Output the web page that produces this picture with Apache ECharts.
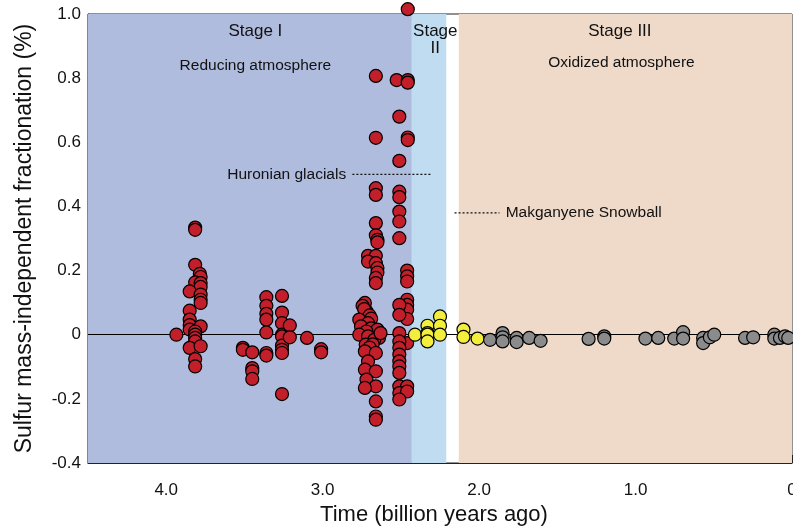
<!DOCTYPE html>
<html>
<head>
<meta charset="utf-8">
<script src="https://cdn.jsdelivr.net/npm/echarts@6/dist/echarts.min.js"></script>
<style>
html,body{margin:0;padding:0;background:#fff;}
#c{width:793px;height:527px;}
</style>
</head>
<body>
<div id="c"></div>
<script>
// ---- data (time in billion years ago, fractionation in %) ----
var stageIPoints = [
  [3.935,0],
  [3.815,0.334],[3.815,0.327],
  [3.815,0.218],[3.785,0.19],[3.78,0.18],[3.815,0.163],[3.78,0.161],[3.78,0.149],[3.85,0.135],
  [3.78,0.125],[3.78,0.109],[3.78,0.099],[3.85,0.075],[3.85,0.047],[3.85,0.03],[3.78,0.026],
  [3.85,0.016],[3.815,0.01],[3.815,0],[3.815,-0.01],[3.815,-0.021],[3.85,-0.041],[3.78,-0.036],
  [3.815,-0.076],[3.815,-0.099],
  [3.51,-0.041],[3.51,-0.047],[3.45,-0.055],[3.45,-0.104],[3.45,-0.114],[3.45,-0.138],
  [3.36,0.117],[3.36,0.09],[3.36,0.065],[3.36,0.047],[3.36,0.007],[3.36,-0.057],[3.36,-0.065],
  [3.26,0.121],[3.26,0.069],[3.26,0.036],[3.26,0],[3.26,-0.005],[3.26,-0.034],[3.26,-0.047],
  [3.26,-0.057],[3.26,-0.185],[3.21,0.029],[3.21,-0.008],
  [3.10,-0.01],
  [3.01,-0.045],[3.01,-0.055],
  [2.66,0.807],[2.66,0.614],
  [2.66,0.457],[2.66,0.436],[2.66,0.348],[2.66,0.31],[2.65,0.296],[2.65,0.288],[2.71,0.246],
  [2.66,0.246],[2.71,0.228],[2.66,0.223],[2.65,0.208],[2.65,0.194],[2.66,0.177],[2.66,0.161],
  [2.73,0.099],[2.745,0.09],[2.72,0.073],[2.735,0.08],[2.70,0.06],[2.69,0.05],[2.766,0.047],
  [2.71,0.036],[2.755,0.026],[2.69,0.02],[2.65,0.016],[2.72,0.01],[2.766,0],[2.71,-0.005],
  [2.64,-0.01],[2.67,-0.016],[2.63,0.005],[2.725,-0.031],[2.68,-0.03],[2.70,-0.04],[2.73,-0.052],
  [2.66,-0.057],[2.71,-0.083],[2.73,-0.109],[2.66,-0.114],[2.72,-0.14],[2.66,-0.161],
  [2.73,-0.166],[2.66,-0.208],[2.66,-0.255],[2.66,-0.265],
  [2.456,1.015],[2.527,0.794],[2.456,0.794],[2.456,0.786],[2.51,0.68],[2.456,0.615],[2.456,0.607],
  [2.51,0.542],[2.51,0.446],[2.51,0.429],[2.51,0.384],[2.51,0.353],[2.51,0.301],[2.46,0.2],
  [2.46,0.182],[2.46,0.166],[2.46,0.109],[2.46,0.093],[2.46,0.078],[2.46,0.049],[2.51,0.093],
  [2.51,0.062],[2.51,0.005],[2.46,-0.026],[2.51,-0.021],[2.51,-0.041],[2.51,-0.062],[2.51,-0.083],
  [2.51,-0.099],[2.51,-0.119],[2.51,-0.161],[2.46,-0.161],[2.51,-0.182],[2.46,-0.177],[2.51,-0.202]
];
var stageIIPoints = [
  [2.41,0],[2.33,0.028],[2.33,0.005],[2.33,0],[2.33,-0.021],[2.25,0.057],[2.25,0.028],[2.25,0],
  [2.10,0.016],[2.10,-0.007],[2.01,-0.012]
];
var stageIIIPoints = [
  [1.93,-0.016],[1.85,0.005],[1.85,-0.008],[1.85,-0.021],[1.76,-0.01],[1.76,-0.023],[1.68,-0.01],
  [1.607,-0.019],[1.30,-0.013],[1.20,-0.005],[1.20,-0.012],[0.937,-0.012],[0.855,-0.01],
  [0.753,-0.012],[0.696,0.008],[0.696,-0.012],[0.568,-0.01],[0.568,-0.026],[0.525,-0.008],
  [0.497,0],[0.30,-0.01],[0.248,-0.008],[0.113,0],[0.113,-0.012],[0.077,-0.01],[0.045,-0.005],
  [0.024,-0.01]
];
// stage background spans (Ga)
var stageSpans = [[4.5,2.43],[2.43,2.21],[2.13,0]];
var stageColors = ['#b0bcdd','#c0dcf0','#efd9c8'];
// annotation lines
var huronianLine = [[2.81,0.5],[2.307,0.5]];
var makganyeneLine = [[2.157,0.38],[1.87,0.38]];
// annotation texts: [t, v, text, size, align]
var annotations = [
  [3.43,0.947,'Stage I',17,'center'],
  [3.43,0.838,'Reducing atmosphere',15.5,'center'],
  [2.28,0.947,'Stage',17,'center'],
  [2.28,0.894,'II',17,'center'],
  [1.10,0.947,'Stage III',17,'center'],
  [1.09,0.849,'Oxidized atmosphere',15.5,'center'],
  [2.85,0.5,'Huronian glacials',15.5,'right'],
  [1.83,0.38,'Makganyene Snowball',15.5,'left']
];

var FONT = 'Liberation Sans, Arial, sans-serif';
var chart = echarts.init(document.getElementById('c'));
function pointSeries(data, color){
  return {
    type:'scatter', data:data, symbolSize:13, clip:false, z:5,
    itemStyle:{color:color, borderColor:'#000', borderWidth:1.2, opacity:1},
    emphasis:{disabled:true}
  };
}
var option = {
  animation:false,
  grid:{left:88,right:1,top:14,bottom:64,show:true,borderColor:'#222',borderWidth:1,
        outerBoundsMode:'none', containLabel:false},
  xAxis:{
    type:'value', min:0, max:4.5, interval:1, inverse:true,
    name:'Time (billion years ago)', nameLocation:'middle', nameGap:41,
    nameTextStyle:{fontFamily:FONT,fontSize:22,color:'#111',padding:[0,12,0,0]},
    axisLine:{show:true,onZero:false,lineStyle:{color:'#222',width:1.2}},
    axisTick:{show:true,inside:true,length:8,lineStyle:{color:'#222'}},
    minorTick:{show:true,splitNumber:2,length:5,lineStyle:{color:'#222'}},
    splitLine:{show:false},
    axisLabel:{fontFamily:FONT,fontSize:17,color:'#111',margin:19,hideOverlap:false,
      formatter:function(v){ if(Math.abs(v-Math.round(v))>1e-6) return ''; return v===0?'0':v.toFixed(1); }}
  },
  yAxis:{
    type:'value', min:-0.4, max:1.0, interval:0.2,
    name:'Sulfur mass-independent fractionation (%)', nameLocation:'middle', nameGap:52,
    nameTextStyle:{fontFamily:FONT,fontSize:23,color:'#111'},
    axisLine:{show:true,onZero:false,lineStyle:{color:'#222',width:1.2}},
    axisTick:{show:true,inside:true,length:8,lineStyle:{color:'#222'}},
    minorTick:{show:true,splitNumber:4,length:5,lineStyle:{color:'#222'}},
    splitLine:{show:false},
    axisLabel:{fontFamily:FONT,fontSize:17,color:'#111',margin:7,
      formatter:function(v){ var r=Math.round(v*10)/10; return r===0?'0':r.toFixed(1); }}
  },
  series:[
    {
      type:'scatter', data:[], z:1, silent:true,
      markArea:{silent:true, data: stageSpans.map(function(s,i){
        return [{xAxis:s[0], itemStyle:{color:stageColors[i],opacity:1}},{xAxis:s[1]}];
      })},
      markLine:{silent:true, symbol:['none','none'], label:{show:false},
        lineStyle:{color:'#000',width:1.2,type:'solid'}, data:[{yAxis:0}]}
    },
    {type:'line', data:huronianLine, symbol:'none', z:2, silent:true,
      lineStyle:{color:'#111',width:1.2,type:[2,2]}},
    {type:'line', data:makganyeneLine, symbol:'none', z:2, silent:true,
      lineStyle:{color:'#111',width:1.2,type:[2,2]}},
    {
      type:'scatter', z:3, silent:true, symbolSize:1,
      itemStyle:{color:'rgba(0,0,0,0)'},
      data: annotations.map(function(a){
        return {value:[a[0],a[1]], name:a[2],
          label:{show:true, formatter:a[2], position:'inside', fontFamily:FONT, fontSize:a[3],
            color:'#111', opacity:1, textBorderWidth:0, align:a[4], verticalAlign:'middle'}};
      })
    },
    pointSeries(stageIPoints,'#c21f2b'),
    pointSeries(stageIIPoints,'#f3ee3c'),
    pointSeries(stageIIIPoints,'#8b8b8b')
  ]
};
chart.setOption(option);
</script>
</body>
</html>
